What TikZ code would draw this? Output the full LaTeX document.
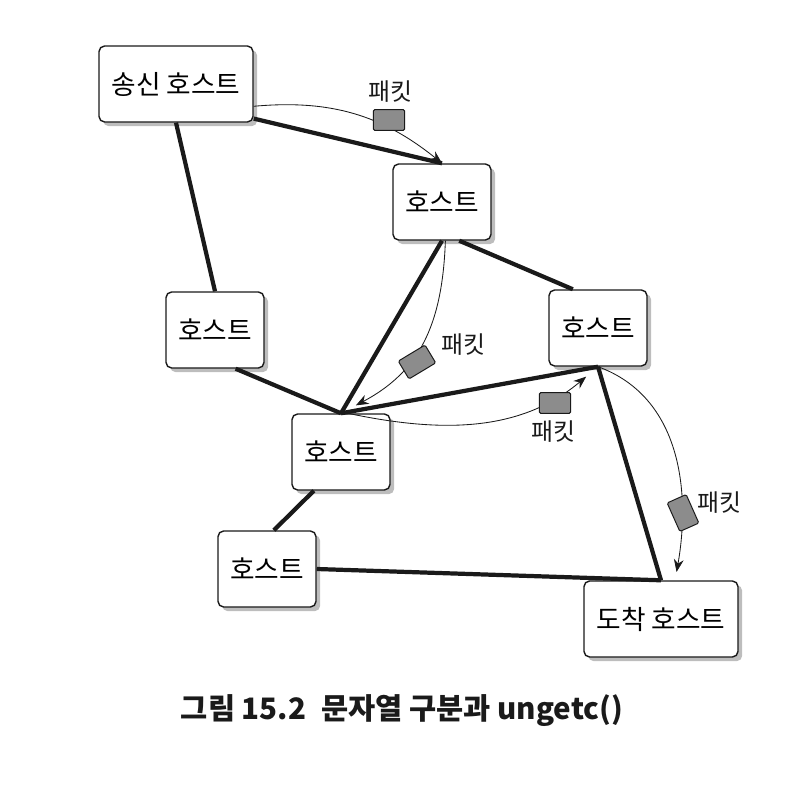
\documentclass[tikz,border=0pt]{standalone}
\usepackage{fontspec}
\usepackage{xcolor}
\usepackage{tikz}
\usetikzlibrary{arrows.meta,shadows}
\newfontfamily\kr{Noto Sans CJK KR}
\definecolor{ink}{HTML}{1A1A1A}
\definecolor{shade}{HTML}{BDBDBD}
\definecolor{pktgray}{HTML}{8C8C8C}
\tikzset{
  host/.style={draw=ink, line width=1pt, rounded corners=4pt, fill=white,
    minimum width=2.45cm, minimum height=1.9cm, inner sep=2pt,
    font=\kr\fontsize{19}{22}\selectfont,
    drop shadow={shadow xshift=3pt, shadow yshift=-3pt, fill=shade, opacity=1}},
  widehost/.style={host, minimum width=3.85cm},
  link/.style={draw=ink, line width=3pt},
  flow/.style={draw=ink, line width=0.6pt, -{Stealth[length=9pt,width=7pt]}},
  pkt/.style={draw=ink, line width=0.7pt, fill=pktgray, rounded corners=1pt,
    minimum width=0.78cm, minimum height=0.52cm, inner sep=0pt},
  lab/.style={text=ink, font=\kr\fontsize{17}{20}\selectfont},
  figcap/.style={text=ink, font=\kr\bfseries\fontsize{21}{24}\selectfont},
}
\begin{document}
\begin{tikzpicture}[x=0.025cm, y=-0.025cm]
  \useasboundingbox (0,0) rectangle (791,787);
  % hosts
  \node[widehost] (snd) at (176,84) {송신 호스트};
  \node[host] (hA) at (442,202) {호스트};
  \node[host] (hB) at (215,330) {호스트};
  \node[host] (hC) at (598,328) {호스트};
  \node[host] (hD) at (341,452) {호스트};
  \node[host] (hE) at (267,569) {호스트};
  \node[widehost] (dst) at (661,619) {도착 호스트};
  % links
  \draw[link] (snd.south) -- (hB.north);
  \draw[link] (snd.-24) -- (hA.north);
  \draw[link] (hA.south) -- (hD.north);
  \draw[link] (hA.-66) -- (hC.123);
  \draw[link] (hB.-62) -- (hD.north);
  \draw[link] (hD.north) -- (hC.south);
  \draw[link] (hC.south) -- (dst.north);
  \draw[link] (hD.-125) -- (hE.80);
  \draw[link] (hE.east) -- (dst.north);
  % packet paths
  \draw[flow] (snd.-16) to[bend left=22] (hA.north);
  \draw[flow, shorten >=12pt] (hA.-85) to[out=-92, in=28, looseness=1.1] (hD.north);
  \draw[flow, shorten >=11pt] (hD.80) to[out=-12, in=-140] (hC.south);
  \draw[flow, shorten >=6pt] (hC.south) to[out=-20, in=80] (dst.70);
  % packets
  \node[pkt] (p1) at (389,120) {};
  \node[pkt, rotate=31] (p2) at (417,362) {};
  \node[pkt] (p3) at (555,403) {};
  \node[pkt, rotate=-66] (p4) at (683,513) {};
  \node[lab] (l1) at (390,92) {패킷};
  \node[lab] (l2) at (463,345) {패킷};
  \node[lab] (l3) at (553,432) {패킷};
  \node[lab] (l4) at (719,503) {패킷};
  % caption
  \node[figcap, anchor=base] (title) at (402,719) {그림 15.2\enspace 문자열 구분과 ungetc()};
\end{tikzpicture}
\end{document}
